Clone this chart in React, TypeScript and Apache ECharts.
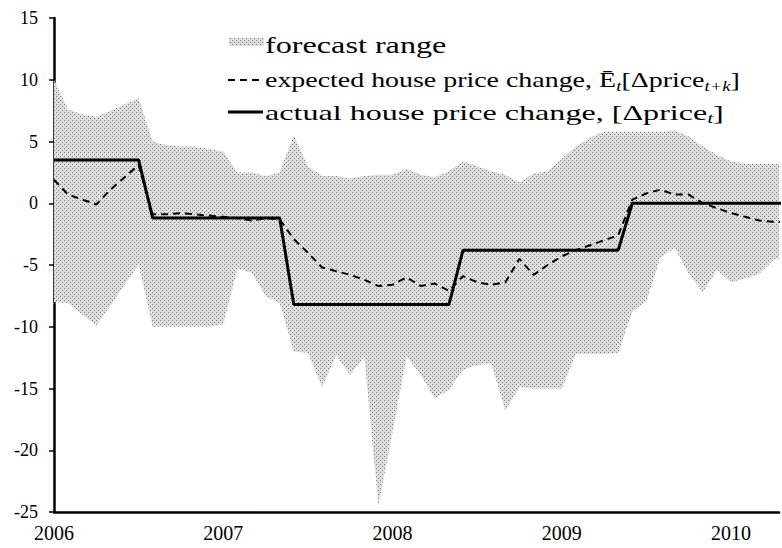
import React, { useEffect, useRef } from "react";
import * as echarts from "echarts";

const FONT = "Liberation Serif";

const years = ["2006", "2007", "2008", "2009", "2010"];

// monthly observations, Jan 2006 = index 0
const upper = [
  10.0, 7.6, 7.2, 7.0, 7.5, 8.0, 8.5, 5.0, 4.7, 4.6, 4.6, 4.4, 4.2,
  2.5, 2.5, 2.2, 2.5, 5.5, 3.0, 2.2, 2.2, 2.0, 2.2, 2.3, 2.3,
  2.8, 2.3, 2.1, 2.6, 3.4, 3.0, 2.6, 2.3, 1.7, 2.4, 2.6, 3.6,
  4.6, 5.3, 5.8, 5.8, 5.8, 5.8, 5.8, 5.9, 5.4, 4.6, 3.9, 3.4,
  3.2, 3.2, 3.2, 3.2,
];

const lower = [
  -8.0, -8.1, -9.0, -9.9, -8.3, -6.6, -5.0, -10.0, -10.0, -10.0, -10.0, -10.0, -9.8,
  -5.3, -5.6, -7.5, -8.1, -12.0, -12.1, -14.9, -12.3, -13.9, -12.4, -24.5, -18.5,
  -12.4, -13.9, -15.8, -15.1, -13.5, -13.1, -13.0, -16.8, -14.9, -15.0, -15.0, -15.0,
  -12.2, -12.2, -12.2, -12.1, -8.8, -7.9, -4.4, -3.6, -5.7, -7.2, -5.4, -6.4,
  -6.1, -5.7, -4.6, -4.3,
];

const expected = [
  1.9, 0.7, 0.3, -0.1, 1.1, 2.1, 3.1, -0.9, -0.9, -0.8, -0.9, -1.0, -1.1,
  -1.2, -1.4, -1.2, -1.3, -2.9, -4.0, -5.2, -5.5, -5.8, -6.2, -6.7, -6.6,
  -6.0, -6.7, -6.5, -7.1, -5.9, -6.4, -6.6, -6.4, -4.5, -5.8, -5.0, -4.3,
  -3.8, -3.4, -3.0, -2.6, 0.3, 0.8, 1.1, 0.7, 0.7, 0.0, -0.4, -0.8,
  -1.1, -1.4, -1.5, -1.5,
];

const actual = [
  3.5, 3.5, 3.5, 3.5, 3.5, 3.5, 3.5, -1.2, -1.2, -1.2, -1.2, -1.2, -1.2,
  -1.2, -1.2, -1.2, -1.2, -8.2, -8.2, -8.2, -8.2, -8.2, -8.2, -8.2, -8.2,
  -8.2, -8.2, -8.2, -8.2, -3.8, -3.8, -3.8, -3.8, -3.8, -3.8, -3.8, -3.8,
  -3.8, -3.8, -3.8, -3.8, 0, 0, 0, 0, 0, 0, 0, 0,
  0, 0, 0, 0,
];

const legendLabels = ["forecast range"];

function makePattern() {
  const c = document.createElement("canvas");
  c.width = 4;
  c.height = 4;
  const ctx = c.getContext("2d")!;
  ctx.fillStyle = "#dedede";
  ctx.fillRect(0, 0, 4, 4);
  ctx.fillStyle = "#7a7a7a";
  ctx.fillRect(0, 0, 1, 1);
  ctx.fillRect(2, 2, 1, 1);
  return { image: c.toDataURL(), repeat: "repeat", imageWidth: 4, imageHeight: 4 };
}

export default function App() {
  const ref = useRef<HTMLDivElement>(null);
  useEffect(() => {
    if (!ref.current) return;
    const chart = echarts.init(ref.current, undefined, { renderer: "svg" });
    const pattern: any = makePattern();
    const pair = (arr: number[]) => arr.map((v, i) => [i, v]);
    const bandData = upper.map((u, i) => [i, u, lower[i]]);

    const richBase = { fontFamily: FONT, fontSize: 21, lineHeight: 26, color: "#000" };
    const richSub = {
      fontFamily: FONT,
      fontSize: 14,
      fontStyle: "italic",
      lineHeight: 14,
      verticalAlign: "bottom",
      color: "#000",
    };

    const option: any = {
      animation: false,
      grid: { left: 54, right: 0, top: 18, bottom: 36 },
      xAxis: {
        type: "value",
        min: 0,
        max: 51.4,
        interval: 12,
        axisLine: { show: true, onZero: false, lineStyle: { color: "#000", width: 2.5 } },
        axisTick: { show: false },
        splitLine: { show: false },
        axisLabel: {
          color: "#000",
          fontFamily: FONT,
          fontSize: 20,
          margin: 11,
          formatter: (v: number) => (v % 12 === 0 ? years[v / 12] ?? "" : ""),
        },
      },
      yAxis: {
        type: "value",
        min: -25,
        max: 15,
        interval: 5,
        axisLine: { show: true, onZero: false, lineStyle: { color: "#000", width: 2.5 } },
        axisTick: { show: true, length: 5, lineStyle: { color: "#000", width: 1.5 } },
        splitLine: { show: false },
        axisLabel: { color: "#000", fontFamily: FONT, fontSize: 18, margin: 16 },
      },
      series: [
        {
          name: "forecast range",
          type: "custom",
          data: bandData,
          encode: { x: 0, y: [1, 2] },
          clip: true,
          silent: true,
          z: 1,
          renderItem: (params: any, api: any) => {
            if (params.dataIndex !== 0) return null;
            const pts: number[][] = [];
            for (let i = 0; i < upper.length; i++) pts.push(api.coord([i, upper[i]]));
            for (let i = lower.length - 1; i >= 0; i--) pts.push(api.coord([i, lower[i]]));
            return {
              type: "polygon",
              shape: { points: pts },
              style: { fill: pattern, stroke: null },
            };
          },
        },
        {
          name: "expected house price change",
          type: "line",
          data: pair(expected),
          symbol: "none",
          lineStyle: { color: "#000", width: 2, type: [7, 5] },
          silent: true,
          z: 3,
        },
        {
          name: "actual house price change",
          type: "line",
          data: pair(actual),
          symbol: "none",
          lineStyle: { color: "#000", width: 3 },
          silent: true,
          z: 4,
        },
      ],
      graphic: [
        {
          type: "rect",
          shape: { x: 229, y: 38, width: 35, height: 8 },
          style: { fill: pattern },
          z: 10,
        },
        {
          type: "text",
          x: 265,
          y: 45,
          scaleX: 1.4,
          style: {
            text: legendLabels[0],
            fontFamily: FONT,
            fontSize: 23,
            fill: "#000",
            verticalAlign: "middle",
          },
          z: 10,
        },
        {
          type: "line",
          shape: { x1: 228, y1: 80, x2: 264, y2: 80 },
          style: { stroke: "#000", lineWidth: 2, lineDash: [7, 5] },
          z: 10,
        },
        {
          type: "text",
          x: 265,
          y: 80,
          scaleX: 1.33,
          style: {
            text: "{n|expected house price change, Ē}{s|t}{n|[Δprice}{s|t+k}{n|]}",
            rich: { n: richBase, s: richSub },
            verticalAlign: "middle",
            fill: "#000",
          },
          z: 10,
        },
        {
          type: "line",
          shape: { x1: 228, y1: 112, x2: 263, y2: 112 },
          style: { stroke: "#000", lineWidth: 3 },
          z: 10,
        },
        {
          type: "text",
          x: 265,
          y: 112,
          scaleX: 1.46,
          style: {
            text: "{n|actual house price change, [Δprice}{s|t}{n|]}",
            rich: { n: { ...richBase, fontSize: 22 }, s: richSub },
            verticalAlign: "middle",
            fill: "#000",
          },
          z: 10,
        },
      ],
    };
    chart.setOption(option);
    return () => chart.dispose();
  }, []);
  return (
    <div
      ref={ref}
      style={{ position: "fixed", left: 0, top: 0, width: 782, height: 548, background: "#fff" }}
    />
  );
}
